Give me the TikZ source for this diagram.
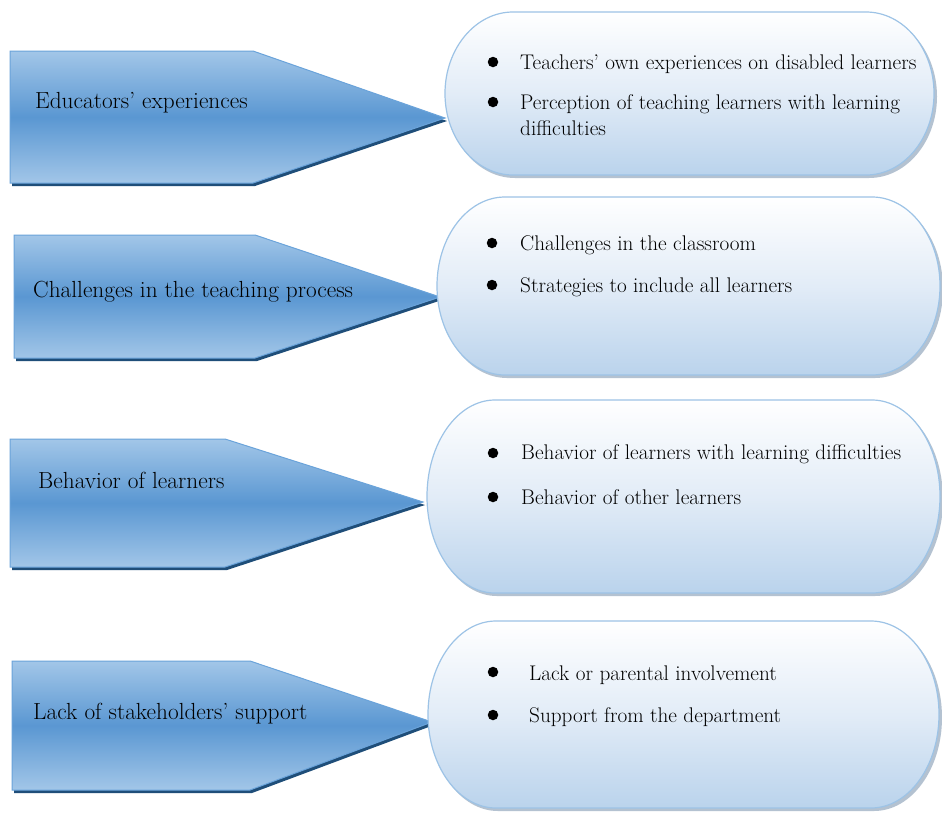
\documentclass[tikz,border=0pt]{standalone}
\usepackage{fontspec}
\definecolor{alight}{HTML}{A2C6E8}
\definecolor{amid}{HTML}{5A97D2}
\definecolor{aborder}{HTML}{6AA3DA}
\definecolor{ashadow}{HTML}{1F4E79}
\definecolor{bbottom}{HTML}{BAD3EC}
\definecolor{bmid}{HTML}{E2ECF7}
\definecolor{bborder}{HTML}{9DC3E6}
\definecolor{bshadow}{HTML}{B4C2D1}
% stadium: #1=style, #2=x1, #3=y1 (top), #4=x2, #5=y2 (bottom)
\newcommand\stadiumdraw[5]{%
  \pgfmathsetmacro\sthr{(#5-#3)/2}%
  \path[#1] (#2+68,#3) -- (#4-68,#3)
  arc[start angle=-90,end angle=90,x radius=68,y radius=\sthr]
  -- (#2+68,#5)
  arc[start angle=90,end angle=270,x radius=68,y radius=\sthr] -- cycle;}
\begin{document}
\begin{tikzpicture}[x=1pt,y=-1pt,
  arrowshadow/.style={fill=ashadow},
  arrowbody/.style={top color=alight,bottom color=alight,middle color=amid,draw=aborder,line width=1pt},
  boxshadow/.style={fill=bshadow},
  boxbody/.style={top color=white,bottom color=bbottom,middle color=bmid,draw=bborder,line width=1.2pt},
  lab/.style={anchor=base west,font=\fontsize{23.3}{28}\selectfont,inner sep=0pt},
  itm/.style={anchor=base west,font=\fontsize{21.2}{26}\selectfont,inner sep=0pt},
  dot/.style={circle,fill=black,inner sep=0pt,minimum size=10.5pt}]
\useasboundingbox[fill=white] (0,0) rectangle (942,812);

% ---------- arrows ----------
\fill[arrowshadow] (12,54) -- (255,54) -- (447,121) -- (255,186) -- (12,186) -- cycle;
\path[arrowbody] (10,51) -- (253,51) -- (445,118) -- (253,183) -- (10,183) -- cycle;

\fill[arrowshadow] (16,238) -- (257,238) -- (442,300) -- (257,361) -- (16,361) -- cycle;
\path[arrowbody] (14,235) -- (255,235) -- (440,297) -- (255,358) -- (14,358) -- cycle;

\fill[arrowshadow] (12,442) -- (227,442) -- (425,505) -- (227,570) -- (12,570) -- cycle;
\path[arrowbody] (10,439) -- (225,439) -- (423,502) -- (225,567) -- (10,567) -- cycle;

\fill[arrowshadow] (14,664) -- (252,664) -- (434,725) -- (252,793) -- (14,793) -- cycle;
\path[arrowbody] (12,661) -- (250,661) -- (432,722) -- (250,790) -- (12,790) -- cycle;

% ---------- boxes ----------
\stadiumdraw{boxshadow}{447}{15}{937}{178}
\stadiumdraw{boxbody}{445}{12}{934}{175}
\stadiumdraw{boxshadow}{439}{200}{943}{378}
\stadiumdraw{boxbody}{437}{197}{940}{375}
\stadiumdraw{boxshadow}{429}{403}{943}{596}
\stadiumdraw{boxbody}{427}{400}{940}{593}
\stadiumdraw{boxshadow}{430}{624}{942}{811}
\stadiumdraw{boxbody}{428}{621}{939}{808}

% ---------- left labels ----------
\node[lab] (l1) at (35,108) {Educators’ experiences};
\node[lab] (l2) at (33,297) {Challenges in the teaching process};
\node[lab] (l3) at (38,488) {Behavior of learners};
\node[lab] (l4) at (33,719) {Lack of stakeholders’ support};

% ---------- box 1 ----------
\node[dot] (d11) at (493,62) {};
\node[itm] (t11) at (520,69) {Teachers’ own experiences on disabled learners};
\node[dot] (d12) at (493,102) {};
\node[itm] (t12) at (520,109) {Perception of teaching learners with learning};
\node[itm] (t12b) at (520,135) {difficulties};

% ---------- box 2 ----------
\node[dot] (d21) at (492,243) {};
\node[itm] (t21) at (520,250) {Challenges in the classroom};
\node[dot] (d22) at (492,285) {};
\node[itm] (t22) at (520,292) {Strategies to include all learners};

% ---------- box 3 ----------
\node[dot] (d31) at (493,453) {};
\node[itm] (t31) at (521,459) {Behavior of learners with learning difficulties};
\node[dot] (d32) at (493,497) {};
\node[itm] (t32) at (521,504) {Behavior of other learners};

% ---------- box 4 ----------
\node[dot] (d41) at (493,672) {};
\node[itm] (t41) at (529,680) {Lack or parental involvement};
\node[dot] (d42) at (493,715) {};
\node[itm] (t42) at (529,722) {Support from the department};
\end{tikzpicture}
\end{document}
